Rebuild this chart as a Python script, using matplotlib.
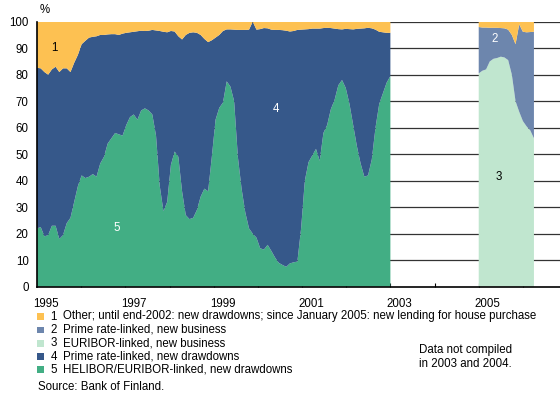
import numpy as np
import matplotlib
matplotlib.use('Agg')
import matplotlib.pyplot as plt
from matplotlib.patches import Rectangle
from matplotlib.transforms import ScaledTranslation

plt.rcParams['font.family'] = ['Liberation Sans', 'DejaVu Sans']

# monthly shares, Jan 1995 - Dec 2002 (%)
helibor_draw = [22, 22.5, 19, 19.5, 23, 23, 18, 19.5, 24, 26, 32, 38,
                42, 41, 41.5, 42.5, 41.5, 46.5, 49, 54, 56, 58, 57.5, 57,
                61, 64, 65, 63, 66.5, 67.3, 66.5, 65, 57, 38, 28.5, 32,
                46, 51, 49, 36, 27, 25.5, 26, 29, 34, 37, 36, 49,
                63, 67.5, 69.5, 77.5, 75.5, 70, 49, 37, 28, 22, 20, 18.5,
                14.5, 14, 15.8, 13.5, 11, 9, 8.2, 7.5, 8.8, 9.2, 9.5, 22,
                40, 47, 49.5, 52, 47.5, 58, 61, 67, 70.5, 76, 78, 75,
                69, 61, 53, 46.5, 41.5, 42, 48, 60, 69, 73, 77, 79.5]
# top of series 4 (helibor + prime rate drawdowns)
draw_total = [82.6, 82.4, 81, 80, 82, 83, 81, 82.4, 82.4, 81, 84.5, 87.5,
              91.5, 92.8, 94, 94.3, 94.5, 95, 95, 95.2, 95.3, 95.3, 95, 95.5,
              95.8, 96, 96.2, 96.4, 96.6, 96.5, 96.6, 96.9, 96.7, 96.5, 96.2, 96,
              96.5, 96.3, 94.5, 93.3, 95, 95.8, 96, 95.8, 95, 93.5, 92.3, 93,
              94, 95, 96.5, 97.1, 97.1, 97, 96.9, 96.9, 96.9, 97, 100, 97,
              97.2, 97.6, 97.5, 97, 96.9, 96.9, 96.8, 96.6, 96.3, 96.5, 96.9, 97,
              97.1, 97.2, 97.4, 97.4, 97.4, 97.6, 97.7, 97.6, 97.4, 97.2, 97.1, 97.3,
              97.2, 97.1, 97.3, 97.4, 97.5, 97.7, 97.5, 97, 96.2, 96, 95.8, 95.8]

# monthly shares, Jan 2005 - Apr 2006 (%)
euribor_new = [80.5, 81.5, 82, 85, 86, 86.3, 86.8, 86.5,
               85.5, 80, 70, 66, 62.5, 60.5, 59, 56]
new_total = [98, 97.8, 97.8, 97.7, 97.7, 97.7, 97.6, 97.5,
             97, 95, 91.5, 99, 96.2, 96, 96.1, 96.2]

years = [1995, 1997, 1999, 2001, 2003, 2005]

c_other = '#fdc152'
c_prime_new = '#6d86ad'
c_eur_new = '#c0e6cf'
c_prime_draw = '#36588a'
c_hel_draw = '#42ae84'

helibor_draw = np.array(helibor_draw)
draw_total = np.array(draw_total)
euribor_new = np.array(euribor_new)
new_total = np.array(new_total)

prime_draw = draw_total - helibor_draw
other1 = 100 - draw_total
prime_new = new_total - euribor_new
other2 = 100 - new_total

x1 = np.linspace(1995, 2003, len(helibor_draw))
x2 = 2005 + np.arange(len(euribor_new)) / 12

fs = 8.3

fig = plt.figure(figsize=(5.6, 3.96), dpi=100)
ax = fig.add_axes([37/560, 1-286.7/396, 1-37/560, (286.7-21.7)/396])

for v in range(10, 101, 10):
    ax.axhline(v, color='#333333', lw=0.9, zorder=0)

ax.stackplot(x1, helibor_draw, prime_draw, other1,
             colors=[c_hel_draw, c_prime_draw, c_other], lw=0, zorder=2)
ax.stackplot(x2, euribor_new, prime_new, other2,
             colors=[c_eur_new, c_prime_new, c_other], lw=0, zorder=2)

ax.set_xlim(1995, 2006.84)
ax.set_ylim(0, 100)
ax.set_yticks(range(0, 101, 10))
ax.tick_params(axis='y', length=0, labelsize=fs, pad=6)
ax.set_xticks(range(1995, 2007))
ax.set_xticklabels([str(y) if y in years else '' for y in range(1995, 2007)])
ax.tick_params(axis='x', direction='in', length=3, labelsize=fs, pad=8)
off = ScaledTranslation(9/100, 0, fig.dpi_scale_trans)
for lab in ax.get_xticklabels():
    lab.set_transform(lab.get_transform() + off)
for s in ['top', 'right']:
    ax.spines[s].set_visible(False)
ax.spines['left'].set_linewidth(1.2)
ax.spines['bottom'].set_linewidth(1.2)
ax.spines['left'].set_zorder(3)

fig.text(45/560, 1-10/396, '%', fontsize=fs, ha='center', va='center')

ax.text(1995.4, 90, '1', fontsize=fs, color='black', ha='center', va='center')
ax.text(1996.8, 22, '5', fontsize=fs, color='white', ha='center', va='center')
ax.text(2000.4, 67, '4', fontsize=fs, color='white', ha='center', va='center')
ax.text(2005.35, 93.5, '2', fontsize=fs, color='white', ha='center', va='center')
ax.text(2005.45, 41.5, '3', fontsize=fs, color='black', ha='center', va='center')

legend_labels = ['Other; until end-2002: new drawdowns; since January 2005: new lending for house purchase',
                 'Prime rate-linked, new business',
                 'EURIBOR-linked, new business',
                 'Prime rate-linked, new drawdowns',
                 'HELIBOR/EURIBOR-linked, new drawdowns']
legend_colors = [c_other, c_prime_new, c_eur_new, c_prime_draw, c_hel_draw]
row_y = [316.5, 330, 343.3, 356.5, 369.7]
for i, (lab, col, yy) in enumerate(zip(legend_labels, legend_colors, row_y)):
    fig.add_artist(Rectangle((36.7/560, 1-(yy+3.4)/396), 6.8/560, 6.8/396,
                             transform=fig.transFigure, color=col, lw=0))
    fig.text(50.5/560, 1-yy/396, str(i+1), fontsize=fs, va='center')
    fig.text(63/560, 1-yy/396, lab, fontsize=fs, va='center')

fig.text(419/560, 1-357/396, 'Data not compiled\nin 2003 and 2004.', fontsize=fs,
         va='center', linespacing=1.15)
fig.text(38/560, 1-387/396, 'Source: Bank of Finland.', fontsize=fs, va='center')

fig.savefig('out.png', dpi=100)
